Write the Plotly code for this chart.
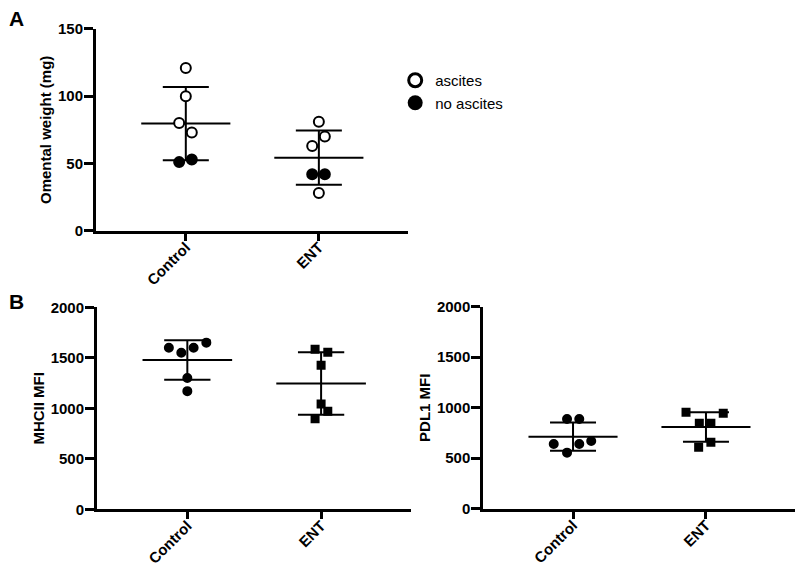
import numpy as np
import plotly.graph_objects as go

groups = ["Control", "ENT"]

# Panel A: omental weight (mg); ascites flag per animal
omental_control = [121, 100, 80, 73, 51, 53]
omental_control_ascites = [True, True, True, True, False, False]
omental_ent = [81, 70, 63, 42, 42, 28]
omental_ent_ascites = [True, True, True, False, False, True]

# Panel B: MFI values
mhcii_control = [1600, 1550, 1600, 1650, 1300, 1170]
mhcii_ent = [1584, 1554, 1426, 1043, 970, 897]
pdl1_control = [888, 888, 640, 640, 670, 555]
pdl1_ent = [954, 945, 845, 845, 657, 608]

# horizontal scatter offsets (category units)
jit_a_control = [0, 0, -0.05, 0.045, -0.05, 0.045]
jit_a_ent = [0, 0.045, -0.05, -0.05, 0.045, 0]
jit_mhcii_control = [-0.138, -0.045, 0.047, 0.142, 0, 0]
jit_mhcii_ent = [-0.045, 0.05, 0, 0, 0.05, -0.045]
jit_pdl1_control = [-0.045, 0.047, -0.145, 0.047, 0.137, -0.045]
jit_pdl1_ent = [-0.15, 0.13, -0.05, 0.037, 0.037, -0.055]

FONT = "Liberation Sans, Arial, sans-serif"
fig = go.Figure()

MEAN_HALF = 0.335
CAP_HALF = 0.173


def add_stats(vals, pos, xa, ya):
    v = np.array(vals, dtype=float)
    m = v.mean()
    sd = v.std(ddof=1)
    xs = [pos - MEAN_HALF, pos + MEAN_HALF, None,
          pos - CAP_HALF, pos + CAP_HALF, None,
          pos - CAP_HALF, pos + CAP_HALF, None,
          pos, pos]
    ys = [m, m, None, m + sd, m + sd, None, m - sd, m - sd, None, m + sd, m - sd]
    fig.add_trace(go.Scatter(x=xs, y=ys, mode="lines", line=dict(color="black", width=2),
                             xaxis=xa, yaxis=ya, showlegend=False, hoverinfo="skip",
                             cliponaxis=False))


def add_points(vals, pos, jit, xa, ya, symbol, size, fills=None):
    xs = [pos + j for j in jit]
    if fills is None:
        fills = [False] * len(vals)
    colors = ["white" if f else "black" for f in fills]
    fig.add_trace(go.Scatter(x=xs, y=vals, mode="markers", xaxis=xa, yaxis=ya,
                             marker=dict(symbol=symbol, size=size, color=colors,
                                         line=dict(color="black", width=2)),
                             showlegend=False, cliponaxis=False))


# Panel A
add_stats(omental_control, 0, "x", "y")
add_stats(omental_ent, 1, "x", "y")
add_points(omental_control, 0, jit_a_control, "x", "y", "circle", 10, omental_control_ascites)
add_points(omental_ent, 1, jit_a_ent, "x", "y", "circle", 10, omental_ent_ascites)

# Panel B left
add_stats(mhcii_control, 0, "x2", "y2")
add_stats(mhcii_ent, 1, "x2", "y2")
add_points(mhcii_control, 0, jit_mhcii_control, "x2", "y2", "circle", 8)
add_points(mhcii_ent, 1, jit_mhcii_ent, "x2", "y2", "square", 7)

# Panel B right
add_stats(pdl1_control, 0, "x3", "y3")
add_stats(pdl1_ent, 1, "x3", "y3")
add_points(pdl1_control, 0, jit_pdl1_control, "x3", "y3", "circle", 8)
add_points(pdl1_ent, 1, jit_pdl1_ent, "x3", "y3", "square", 7)

# Legend entries
fig.add_trace(go.Scatter(x=[None], y=[None], mode="markers", name="ascites",
                         legendgroup="a",
                         marker=dict(symbol="circle", size=13, color="white",
                                     line=dict(color="black", width=3))))
fig.add_trace(go.Scatter(x=[None], y=[None], mode="markers", name="no ascites",
                         legendgroup="b",
                         marker=dict(symbol="circle", size=15, color="black",
                                     line=dict(color="black", width=0))))

xcommon = dict(range=[-0.675, 1.67], tickvals=[0, 1], ticktext=groups, tickangle=-45,
               showline=True, linewidth=3, linecolor="black", ticks="outside",
               ticklen=7, tickwidth=3, tickcolor="black", showgrid=False, zeroline=False,
               tickfont=dict(family=FONT, size=15, color="black", weight="bold"),
               ticklabelstandoff=-8, automargin=False, fixedrange=True)
ycommon = dict(showline=True, linewidth=3, linecolor="black", ticks="outside",
               ticklen=9, tickwidth=3, tickcolor="black", showgrid=False, zeroline=False,
               tickfont=dict(family=FONT, size=15, color="black", weight="bold"),
               title_font=dict(family=FONT, size=15, color="black", weight="bold"),
               ticklabelstandoff=-2, title_standoff=3, automargin=False, fixedrange=True)

fig.update_layout(
    width=800, height=567,
    margin=dict(l=0, r=0, t=0, b=0, autoexpand=False),
    paper_bgcolor="white", plot_bgcolor="white",
    font=dict(family=FONT, color="black"),
    xaxis=dict(domain=[0.12, 0.51], anchor="y", **xcommon),
    yaxis=dict(domain=[0.5931, 0.9489], anchor="x", range=[0, 150],
               tickvals=[0, 50, 100, 150], title_text="Omental weight (mg)", **ycommon),
    xaxis2=dict(domain=[0.1213, 0.5134], anchor="y2", **xcommon),
    yaxis2=dict(domain=[0.1018, 0.458], anchor="x2", range=[0, 2000],
                tickvals=[0, 500, 1000, 1500, 2000], title_text="MHCII MFI", **ycommon),
    xaxis3=dict(domain=[0.6041, 0.9938], anchor="y3", **xcommon),
    yaxis3=dict(domain=[0.1028, 0.4591], anchor="x3", range=[0, 2000],
                tickvals=[0, 500, 1000, 1500, 2000], title_text="PDL1 MFI", **ycommon),
    legend=dict(x=0.494, y=1 - 64 / 567, xanchor="left", yanchor="top",
                font=dict(family=FONT, size=15, color="black"),
                traceorder="grouped", tracegroupgap=0, bgcolor="rgba(0,0,0,0)"),
)

fig.add_annotation(text="<b>A</b>", x=7 / 800, y=1 - 5 / 567, xref="paper", yref="paper",
                   xanchor="left", yanchor="top", showarrow=False,
                   font=dict(family=FONT, size=21, color="black"))
fig.add_annotation(text="<b>B</b>", x=7 / 800, y=1 - 288 / 567, xref="paper", yref="paper",
                   xanchor="left", yanchor="top", showarrow=False,
                   font=dict(family=FONT, size=21, color="black"))

fig.write_html(
    "out.html",
    config={"displayModeBar": False},
    post_script="document.body.style.margin='0';document.body.style.overflow='hidden';",
)
